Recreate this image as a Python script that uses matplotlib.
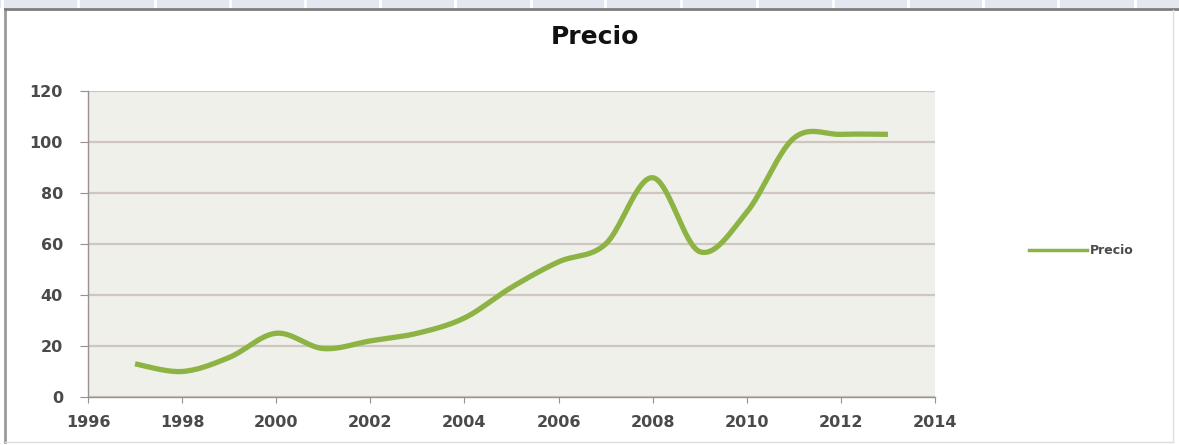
import numpy as np
import matplotlib
matplotlib.use("Agg")
import matplotlib.pyplot as plt
from matplotlib.lines import Line2D
from matplotlib.patches import Rectangle

# ---- data ----
years = [1997, 1998, 1999, 2000, 2001, 2002, 2003, 2004, 2005,
         2006, 2007, 2008, 2009, 2010, 2011, 2012, 2013]
precio = [13, 10, 15.5, 25, 19, 22, 25, 31, 43,
          53, 60, 86, 57, 72.5, 101.5, 103, 103]
series_name = "Precio"
title = "Precio"
x_ticks = [1996, 1998, 2000, 2002, 2004, 2006, 2008, 2010, 2012, 2014]
y_ticks = [0, 20, 40, 60, 80, 100, 120]

W, H = 1179, 445
fig = plt.figure(figsize=(W / 100, H / 100), dpi=100)
fig.patch.set_facecolor("white")


def fx(px):
    return px / W


def fy(py):
    return 1 - py / H


# spreadsheet header strip at top
fig.add_artist(Rectangle((0, fy(8)), 1, 8 / H, transform=fig.transFigure,
                         facecolor="#e3e8f0", edgecolor="none"))
for sx in [2, 78, 155, 230, 305, 380, 455, 531, 605, 681, 757, 833, 908, 983, 1058, 1135]:
    fig.add_artist(Line2D([fx(sx), fx(sx)], [fy(0), fy(8)], transform=fig.transFigure,
                          color="white", lw=2))

# chart area border
fig.add_artist(Line2D([fx(5), fx(5)], [fy(9), fy(442)], transform=fig.transFigure,
                      color="#9a9a9a", lw=2))
fig.add_artist(Line2D([fx(5), fx(1179)], [fy(9), fy(9)], transform=fig.transFigure,
                      color="#7d7d7d", lw=2))
fig.add_artist(Line2D([fx(5), fx(1173)], [fy(442), fy(442)], transform=fig.transFigure,
                      color="#dcdcdc", lw=1))
fig.add_artist(Line2D([fx(1173), fx(1173)], [fy(10), fy(442)], transform=fig.transFigure,
                      color="#e0e0e0", lw=1))

ax = fig.add_axes([fx(88), fy(397), (935 - 88) / W, (397 - 91) / H])
ax.set_facecolor("#eef0e9")
ax.set_xlim(1996, 2014)
ax.set_ylim(0, 120)
ax.set_xticks(x_ticks)
ax.set_yticks(y_ticks)
ax.yaxis.grid(True, color="#cfc7bf", lw=1.6)
ax.set_axisbelow(True)
for s in ["top", "right"]:
    ax.spines[s].set_visible(False)
for s in ["left", "bottom"]:
    ax.spines[s].set_color("#9a9090")
    ax.spines[s].set_linewidth(1.0)
ax.tick_params(axis="y", direction="out", length=6, color="#9a9090", pad=12,
               labelsize=11.5, labelcolor="#4a4a4a")
ax.tick_params(axis="x", direction="out", length=4, color="#9a9090", pad=9,
               labelsize=11.5, labelcolor="#4a4a4a")
for lab in ax.get_xticklabels() + ax.get_yticklabels():
    lab.set_fontweight("bold")


def smooth(x, y, n=40):
    pts = np.column_stack([x, y]).astype(float)
    P = np.vstack([pts[0], pts, pts[-1]])
    out = []
    t = np.linspace(0, 1, n)[:, None]
    for i in range(len(pts) - 1):
        p0 = P[i + 1]
        p3 = P[i + 2]
        c1 = p0 + (P[i + 2] - P[i]) / 6
        c2 = p3 - (P[i + 3] - P[i + 1]) / 6
        seg = (1 - t) ** 3 * p0 + 3 * (1 - t) ** 2 * t * c1 + 3 * (1 - t) * t ** 2 * c2 + t ** 3 * p3
        out.append(seg if i == 0 else seg[1:])
    return np.vstack(out)


curve = smooth(years, precio)
line_color = "#8db344"
ax.plot(curve[:, 0], curve[:, 1], color=line_color, lw=3.8,
        solid_capstyle="butt", label=series_name)

fig.text(fx(595), fy(37), title, ha="center", va="center",
         fontsize=18, fontweight="bold", color="#111111")

handle = Line2D([], [], color=line_color, lw=2.5)
fig.legend([handle], [series_name], loc="center left",
           bbox_to_anchor=(fx(1029), fy(251)), frameon=False,
           borderaxespad=0, borderpad=0, handlelength=4.6, handletextpad=0.25,
           prop={"size": 9, "weight": "bold"}, labelcolor="#4a4a4a")

fig.savefig("out.png", dpi=100, facecolor="white")
